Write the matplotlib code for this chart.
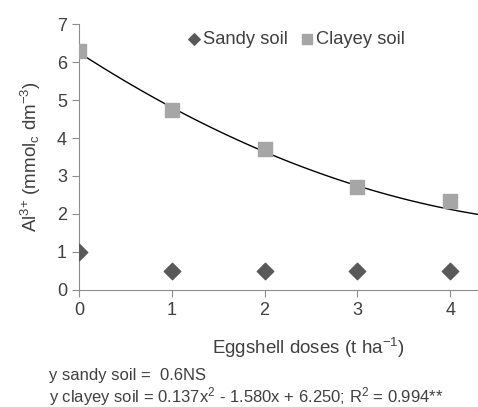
import matplotlib
matplotlib.use("Agg")
import matplotlib.pyplot as plt
import numpy as np

plt.rcParams['font.family'] = ['Liberation Sans', 'DejaVu Sans']
plt.rcParams['mathtext.fontset'] = 'custom'
plt.rcParams['mathtext.rm'] = 'Liberation Sans'
plt.rcParams['mathtext.it'] = 'Liberation Sans'
plt.rcParams['mathtext.default'] = 'rm'

# data
doses = [0, 1, 2, 3, 4]
sandy = [1.0, 0.5, 0.5, 0.5, 0.5]
clayey = [6.3, 4.75, 3.72, 2.72, 2.33]
# fitted quadratic for clayey soil (from the equation printed under the chart)
clayey_fit = [0.137, -1.580, 6.250]

txt = '#404040'
axcol = '#8c8c8c'

fig = plt.figure(figsize=(4.78, 4.07), dpi=100)
ax = fig.add_axes([0.165, 0.2875, 0.835, 0.6535])

xs = np.linspace(0, 4.3, 100)
ax.plot(xs, np.polyval(clayey_fit, xs), color='black', lw=1.0, zorder=2)
ax.scatter(doses, sandy, marker='D', s=70, color='#595959', label='Sandy soil', zorder=3)
ax.scatter(doses, clayey, marker='s', s=110, color='#a6a6a6', label='Clayey soil', zorder=3)

ax.set_xlim(0, 4.3)
ax.set_ylim(0, 7)
ax.set_xticks(doses)
ax.set_yticks(range(0, 8))
ax.spines['top'].set_visible(False)
ax.spines['right'].set_visible(False)
ax.spines['left'].set_color(axcol)
ax.spines['bottom'].set_color(axcol)
ax.tick_params(colors=axcol, labelcolor=txt, labelsize=13, length=5)
ax.set_xlabel('Eggshell doses (t ha$^{{-}1}$)', fontsize=13.5, color=txt, labelpad=12)
ax.xaxis.label.set_x(0.574)
ax.set_ylabel('Al$^{3{+}}$ (mmol$_c$ dm$^{{-}3}$)', fontsize=13.5, color=txt, labelpad=10)

ax.legend(loc='upper center', bbox_to_anchor=(0.541, 1.035), ncol=2, frameon=False,
          fontsize=13.2, handletextpad=0.0, columnspacing=0.5, handlelength=1.0,
          labelcolor=txt, markerscale=0.7)

fig.text(0.103, 0.066, 'y sandy soil =  0.6NS', fontsize=12, color=txt)
fig.text(0.103, 0.012, 'y clayey soil = 0.137x$^2$ - 1.580x + 6.250; R$^2$ = 0.994**',
         fontsize=12, color=txt)

fig.savefig('out.png', dpi=100)
